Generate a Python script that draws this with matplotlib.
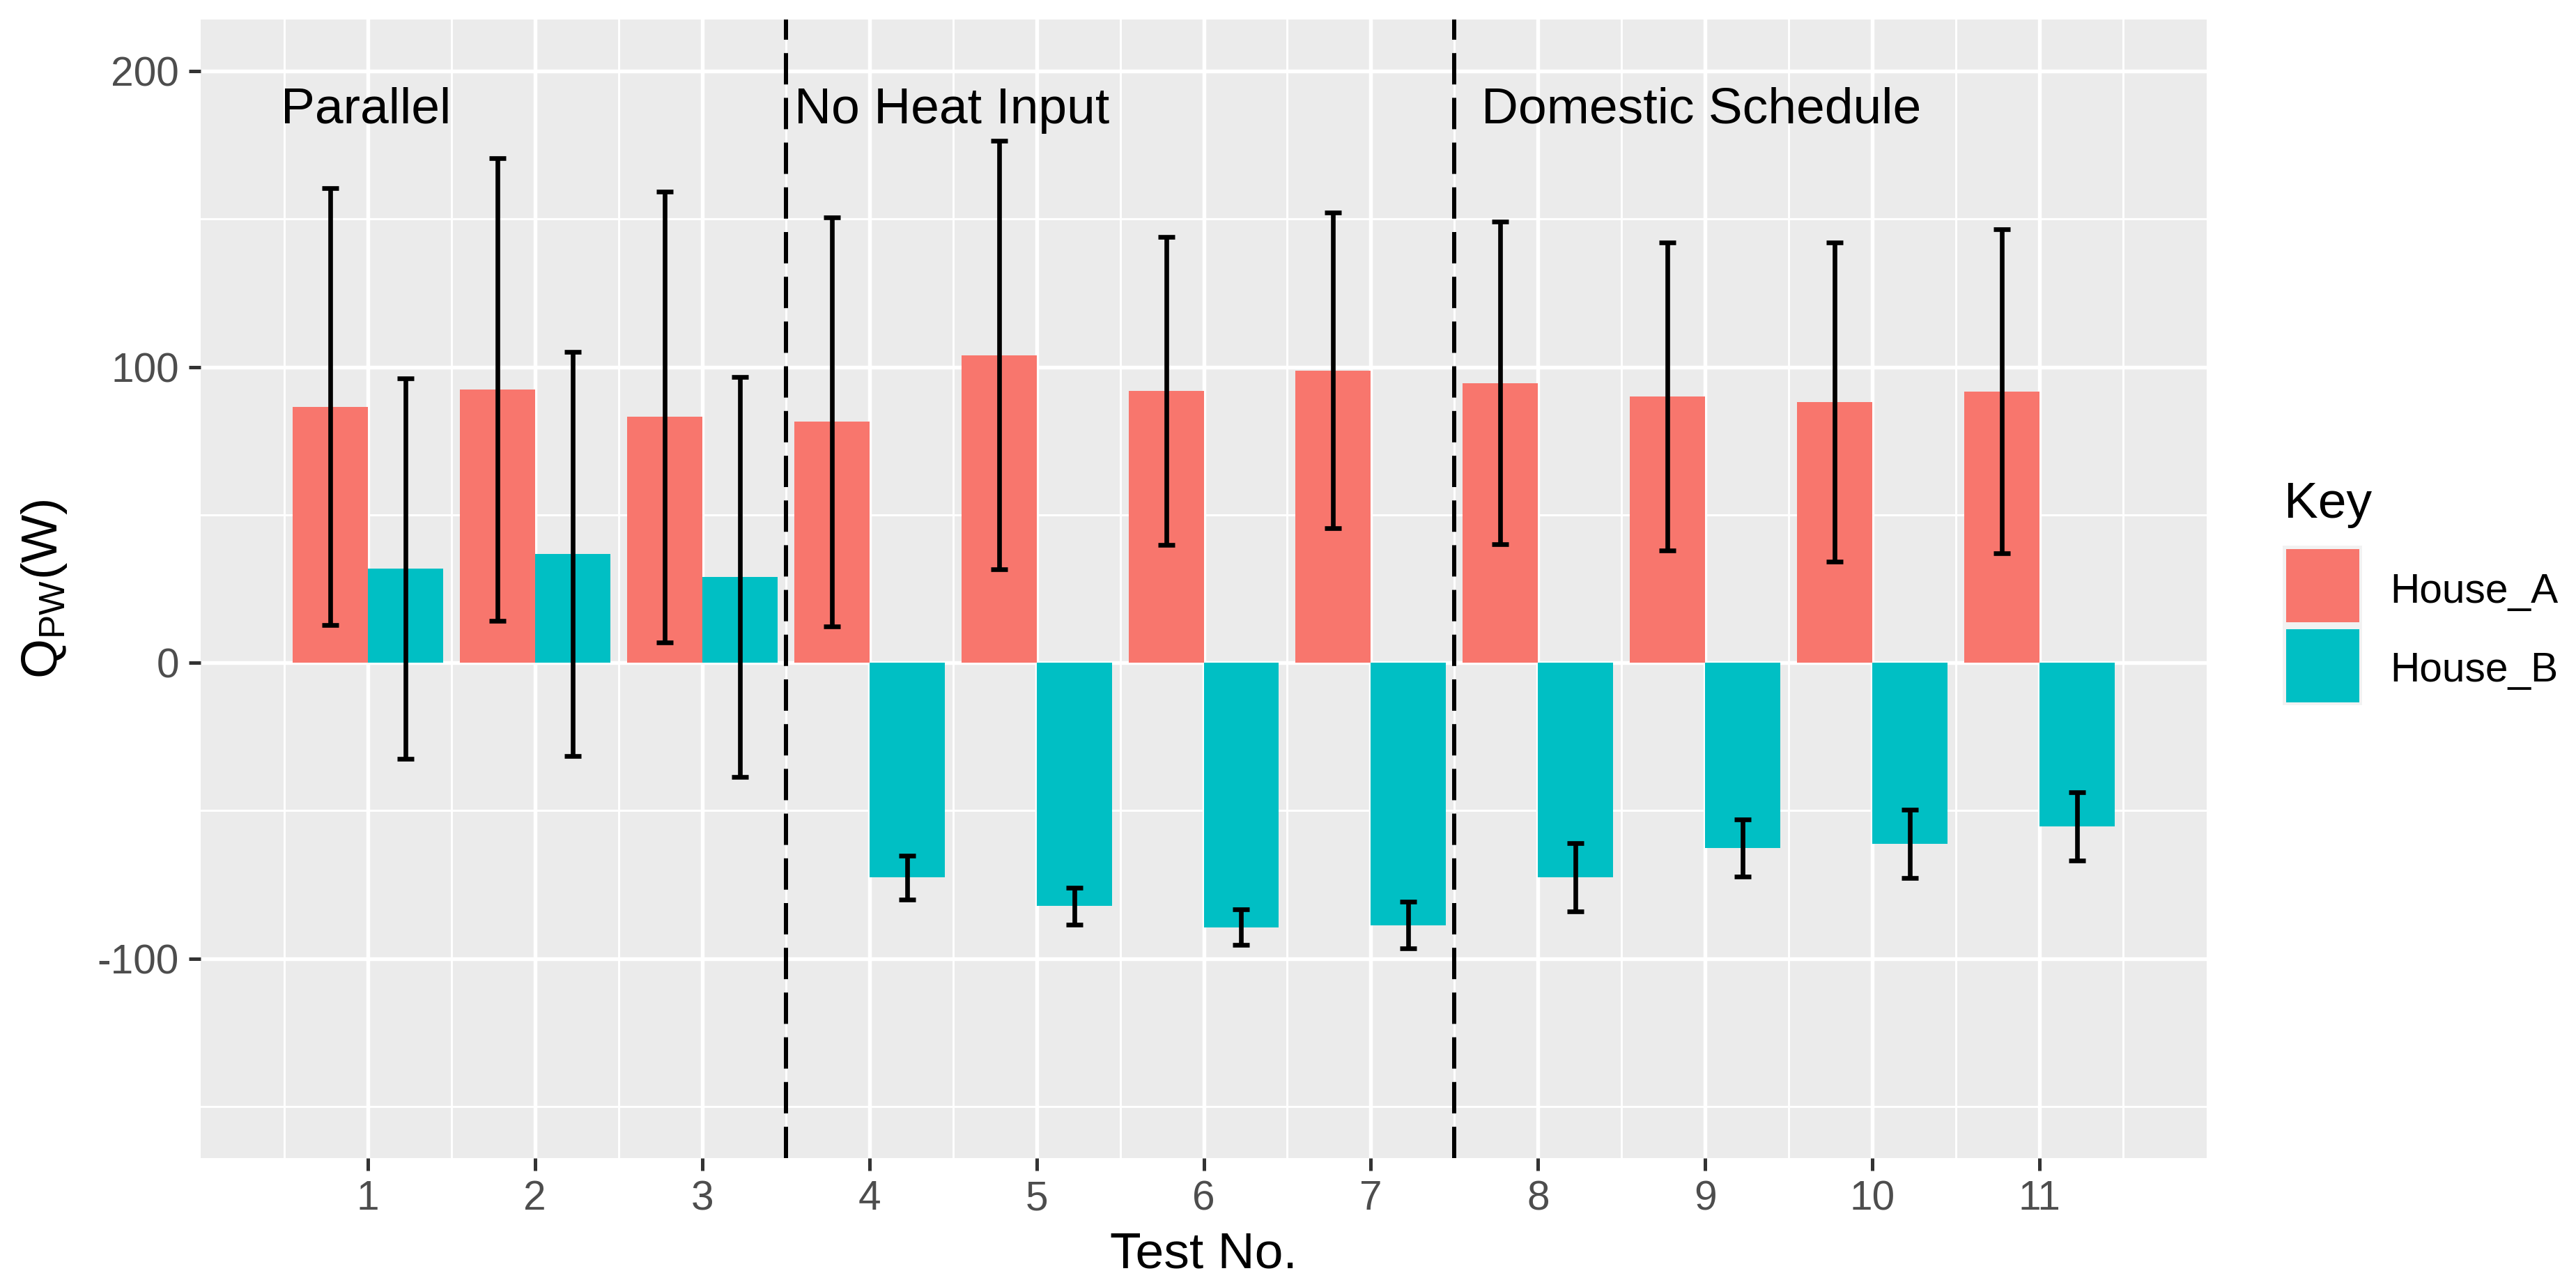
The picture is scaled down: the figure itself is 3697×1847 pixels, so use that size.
import matplotlib
matplotlib.use('Agg')
import matplotlib.pyplot as plt
from matplotlib.patches import Rectangle
import numpy as np

# ---------------- data ----------------
tests = [1, 2, 3, 4, 5, 6, 7, 8, 9, 10, 11]
house_a = [86.6, 92.4, 83.1, 81.5, 104.0, 92.0, 98.8, 94.6, 90.0, 88.1, 91.7]
house_a_err = [73.8, 78.2, 76.2, 69.2, 72.4, 52.1, 53.4, 54.6, 52.0, 53.9, 54.8]
house_b = [31.8, 36.8, 29.0, -72.6, -82.3, -89.4, -88.7, -72.5, -62.6, -61.3, -55.4]
house_b_err = [64.4, 68.4, 67.6, 7.4, 6.2, 6.1, 7.8, 11.6, 9.6, 11.5, 11.5]
series_names = ['House_A', 'House_B']
series_colors = ['#F8766D', '#00BFC4']
section_labels = ['Parallel', 'No Heat Input', 'Domestic Schedule']
section_label_x = [0.48, 3.55, 7.66]
section_label_y = 182.4
section_breaks = [3.5, 7.5]
y_ticks = [-100, 0, 100, 200]
y_ticklabels = ['-100', '0', '100', '200']
y_minor = [-150, -50, 50, 150]

W, H = 3697, 1847
DPI = 300
plt.rcParams['font.family'] = ['Liberation Sans', 'DejaVu Sans']
plt.rcParams['axes.unicode_minus'] = False

fig = plt.figure(figsize=(W / DPI, H / DPI), dpi=DPI)

def fx(px):
    return px / W

def fy(py):
    return 1 - py / H

pl, pr, pt, pb = 288, 3167, 28, 1662
ax = fig.add_axes([fx(pl), fy(pb), (pr - pl) / W, (pb - pt) / H])
ax.set_facecolor('#EBEBEB')
for s in ax.spines.values():
    s.set_visible(False)

x = np.array(tests, dtype=float)
bw = 0.45
ax.bar(x - bw / 2, house_a, width=bw, color=series_colors[0], zorder=2, label=series_names[0])
ax.bar(x + bw / 2, house_b, width=bw, color=series_colors[1], zorder=2, label=series_names[1])
ax.errorbar(x - bw / 2, house_a, yerr=house_a_err, fmt='none', ecolor='black',
            elinewidth=1.6, capsize=2.88, capthick=1.6, zorder=3)
ax.errorbar(x + bw / 2, house_b, yerr=house_b_err, fmt='none', ecolor='black',
            elinewidth=1.6, capsize=2.88, capthick=1.6, zorder=3)

for xb in section_breaks:
    ax.axvline(xb, color='black', lw=1.44, dashes=(7.5, 3.2), zorder=4)

for lab, lx in zip(section_labels, section_label_x):
    ax.text(lx, section_label_y, lab, fontsize=17.6, ha='left', va='baseline', color='black', zorder=5)

ax.set_xlim(0.0, 12.0)
ax.set_ylim(-167.5, 217.5)
ax.set_xticks(tests)
ax.set_xticklabels([str(t) for t in tests])
ax.set_xticks(np.arange(0.5, 12, 1.0), minor=True)
ax.set_yticks(y_ticks)
ax.set_yticklabels(y_ticklabels)
ax.set_yticks(y_minor, minor=True)
ax.set_axisbelow(True)
ax.grid(which='major', color='white', lw=1.3, zorder=0)
ax.grid(which='minor', color='white', lw=0.7, zorder=0)
ax.tick_params(which='major', length=4.2, width=1.2, color='#333333',
               labelsize=14.08, labelcolor='#4D4D4D', pad=3.3)
ax.tick_params(which='minor', length=0)

ax.set_xlabel('Test No.', fontsize=17.6, va='baseline')
ax.xaxis.set_label_coords(0.5, -(1819 - pb) / (pb - pt))
ax.set_ylabel(r'$\mathregular{Q_{PW}(W)}$', fontsize=17.6, va='center')
ax.yaxis.set_label_coords((63 - pl) / (pr - pl), 0.5)

# ---------------- legend (ggplot style) ----------------
fig.text(fx(3278), fy(743), 'Key', fontsize=17.6, ha='left', va='baseline')
fig.add_artist(Rectangle((fx(3276), fy(1012)), fx(3390) - fx(3276), fy(783) - fy(1012),
                         transform=fig.transFigure, facecolor='#F2F2F2', edgecolor='none'))
key_tops = [788, 903]
label_base = [865, 978]
for name, col, kt, lb in zip(series_names, series_colors, key_tops, label_base):
    fig.add_artist(Rectangle((fx(3281), fy(kt + 105)), fx(3386) - fx(3281), fy(kt) - fy(kt + 105),
                             transform=fig.transFigure, facecolor=col, edgecolor='none'))
    fig.text(fx(3430), fy(lb), name, fontsize=14.08, ha='left', va='baseline')

fig.savefig('out.png', dpi=DPI, facecolor='white')
